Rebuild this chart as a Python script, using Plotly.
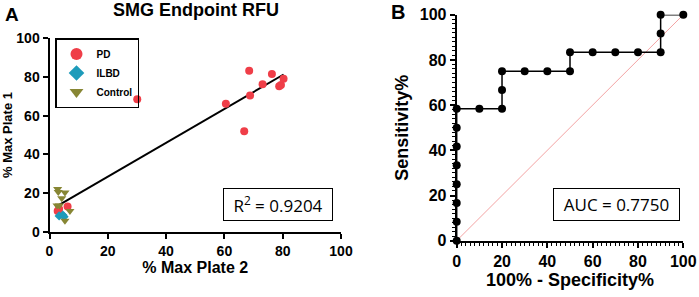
import numpy as np
import plotly.graph_objects as go

# ---------------- data ----------------
pd_x = [30.1, 60.5, 66.8, 68.5, 68.8, 73.1, 76.3, 78.8, 79.4, 80.3, 6.2, 2.8, 3.3]
pd_y = [68.4, 66.1, 51.9, 83.1, 70.3, 76.1, 81.4, 75.1, 75.8, 79.0, 13.2, 10.8, 11.8]
ilbd_x = [3.3, 4.6, 5.0]
ilbd_y = [8.3, 8.8, 7.9]
ctrl_x = [2.8, 3.0, 5.3, 4.2, 2.6, 3.4, 7.0, 5.3]
ctrl_y = [22.2, 20.6, 20.3, 17.4, 13.6, 13.6, 10.8, 5.8]

roc_x = [0, 0, 0, 0, 0, 0, 0, 0, 10, 20, 20, 20, 30, 40, 50, 50, 60, 70, 80, 90, 90, 90, 100]
roc_y = [0, 8.33, 16.67, 25, 33.33, 41.67, 50, 58.33, 58.33, 58.33, 66.67, 75, 75, 75, 75,
         83.33, 83.33, 83.33, 83.33, 83.33, 91.67, 100, 100]
diag = [0, 100]

tick_vals = [0, 20, 40, 60, 80, 100]
tick_labels = ["0", "20", "40", "60", "80", "100"]

r2_text = "R<sup>2</sup> = 0.9204"
auc_text = "AUC = 0.7750"

# regression line fitted from all points in panel A
all_x = np.array(pd_x + ilbd_x + ctrl_x)
all_y = np.array(pd_y + ilbd_y + ctrl_y)
slope, intercept = np.polyfit(all_x, all_y, 1)
fit_x = [all_x.min(), all_x.max()]
fit_y = [slope * v + intercept for v in fit_x]

# ---------------- figure ----------------
W, H = 699, 297
def fx(px): return px / W
def fy(py): return 1 - py / H

FONT = "Liberation Sans, Arial"
bold_ticks = [f"<b>{t}</b>" for t in tick_labels]

fig = go.Figure()

fig.add_trace(go.Scatter(x=fit_x, y=fit_y, mode="lines", line=dict(color="black", width=2),
                         showlegend=False, xaxis="x", yaxis="y", hoverinfo="skip"))
fig.add_trace(go.Scatter(x=pd_x, y=pd_y, mode="markers", name="<b>PD</b>",
                         marker=dict(symbol="circle", size=8, color="#EF3E48"),
                         xaxis="x", yaxis="y", cliponaxis=False))
fig.add_trace(go.Scatter(x=ilbd_x, y=ilbd_y, mode="markers", name="<b>ILBD</b>",
                         marker=dict(symbol="diamond", size=7, color="#1D9BBA"),
                         xaxis="x", yaxis="y", cliponaxis=False))
fig.add_trace(go.Scatter(x=ctrl_x, y=ctrl_y, mode="markers", name="<b>Control</b>",
                         marker=dict(symbol="triangle-down", size=8, color="#878634"),
                         xaxis="x", yaxis="y", cliponaxis=False))

fig.add_trace(go.Scatter(x=diag, y=diag, mode="lines", line=dict(color="#F3A3A3", width=1),
                         showlegend=False, xaxis="x2", yaxis="y2", hoverinfo="skip"))
fig.add_trace(go.Scatter(x=roc_x, y=roc_y, mode="lines+markers",
                         line=dict(color="black", width=1.5, shape="linear"),
                         marker=dict(symbol="circle", size=8, color="black"),
                         showlegend=False, xaxis="x2", yaxis="y2", cliponaxis=False))

def axis(size):
    return dict(showgrid=False, zeroline=False, showline=True, linecolor="black", linewidth=2,
                ticks="outside", tickcolor="black", tickwidth=1.5, ticklen=5,
                tickfont=dict(family=FONT, size=size, color="black"),
                range=[0, 100], tickmode="array", tickvals=tick_vals, ticktext=bold_ticks,
                automargin=False)

minor = dict(dtick=2, tick0=0, ticks="outside", ticklen=3, tickcolor="black", tickwidth=1)

def tfont(size):
    return dict(family=FONT, size=size, color="black")

fig.update_layout(
    width=W, height=H,
    margin=dict(l=0, r=0, t=0, b=0, autoexpand=False),
    paper_bgcolor="white", plot_bgcolor="white",
    font=dict(family=FONT, color="black"),
    xaxis=dict(domain=[fx(49.5), fx(341)], anchor="y",
               title=dict(text="<b>% Max Plate 2</b>", font=tfont(16), standoff=3), **axis(14)),
    yaxis=dict(domain=[fy(232), fy(38)], anchor="x",
               title=dict(text="<b>% Max Plate 1</b>", font=tfont(13), standoff=7), **axis(14)),
    xaxis2=dict(domain=[fx(456.7), fx(683.3)], anchor="y2",
                title=dict(text="<b>100% - Specificity%</b>", font=tfont(18), standoff=2),
                minor=minor, **axis(16)),
    yaxis2=dict(domain=[fy(240.7), fy(14.7)], anchor="x2",
                title=dict(text="<b>Sensitivity%</b>", font=tfont(18), standoff=6),
                minor=minor, **axis(16)),
    legend=dict(x=fx(55), y=fy(38), xanchor="left", yanchor="top",
                bordercolor="black", borderwidth=1.5, bgcolor="rgba(0,0,0,0)",
                font=dict(family=FONT, size=10, color="black"),
                itemsizing="constant", tracegroupgap=0, itemwidth=30),
    annotations=[
        dict(text="<b>SMG Endpoint RFU</b>", x=fx(196), y=fy(10), xref="paper", yref="paper",
             xanchor="center", yanchor="middle",
             showarrow=False, font=dict(family=FONT, size=18)),
        dict(text="<b>A</b>", x=fx(12), y=fy(14), xref="paper", yref="paper",
             xanchor="center", yanchor="middle",
             showarrow=False, font=dict(family=FONT, size=19)),
        dict(text="<b>B</b>", x=fx(397.5), y=fy(12.5), xref="paper", yref="paper",
             xanchor="center", yanchor="middle",
             showarrow=False, font=dict(family=FONT, size=20)),
        dict(text=r2_text, x=fx(278), y=fy(204), xref="paper", yref="paper", showarrow=False,
             xanchor="center", yanchor="middle",
             font=dict(family="Open Sans", size=17, color="black"),
             bordercolor="black", borderwidth=1, width=106, height=29, bgcolor="white"),
        dict(text=auc_text, x=fx(616.3), y=fy(204), xref="paper", yref="paper", showarrow=False,
             xanchor="center", yanchor="middle",
             font=dict(family="Open Sans", size=17, color="black"),
             bordercolor="black", borderwidth=1, width=123, height=29, bgcolor="white"),
    ],
)

fig.write_html("out.html", config={"displayModeBar": False},
               post_script="document.body.style.margin='0px';")
